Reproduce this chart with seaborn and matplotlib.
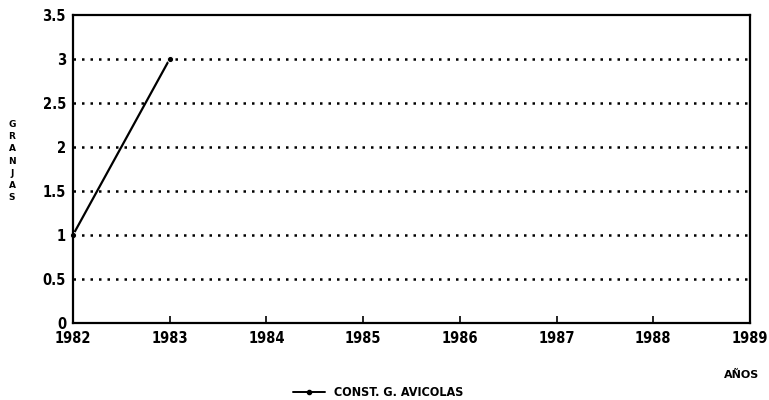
import matplotlib
matplotlib.use("Agg")
import matplotlib.pyplot as plt
import seaborn as sns
import pandas as pd
from matplotlib.lines import Line2D

years = [1982, 1983]
granjas = [1, 3]
x_ticks = [1982, 1983, 1984, 1985, 1986, 1987, 1988, 1989]
y_ticks = [0, 0.5, 1, 1.5, 2, 2.5, 3, 3.5]
y_tick_labels = ["0", "0.5", "1", "1.5", "2", "2.5", "3", "3.5"]
series_name = "CONST. G. AVICOLAS"

sns.set_style("white")
plt.rcParams['font.family'] = ['DejaVu Sans']
plt.rcParams['text.color'] = 'black'
plt.rcParams['xtick.color'] = 'black'
plt.rcParams['ytick.color'] = 'black'

df = pd.DataFrame({"AÑOS": years, "GRANJAS": granjas, "serie": [series_name] * len(years)})

fig = plt.figure(figsize=(7.69, 4.0), dpi=100)
ax = fig.add_axes([0.0949, 0.1925, 0.8804, 0.77])

sns.lineplot(data=df, x="AÑOS", y="GRANJAS", hue="serie", palette=["black"],
             marker="o", markersize=4.5, linewidth=1.6, ax=ax, legend=False)
for ln in ax.get_lines():
    ln.set_clip_on(False)

ax.set_xlim(1982, 1989)
ax.set_ylim(0, 3.5)
ax.set_xticks(x_ticks)
ax.set_xticklabels([str(y) for y in x_ticks])
ax.set_yticks(y_ticks)
ax.set_yticklabels(y_tick_labels)

for yv in y_ticks[1:-1]:
    ax.axhline(yv, color="black", linestyle=(0, (1, 2.4)), linewidth=1.8, zorder=0)

for s in ax.spines.values():
    s.set_visible(True)
    s.set_color("black")
    s.set_linewidth(1.6)

ax.tick_params(axis="x", direction="in", length=5, width=1.2, bottom=True, pad=6,
               colors="black")
ax.tick_params(axis="y", length=0, pad=5, colors="black")
for lab in ax.get_xticklabels() + ax.get_yticklabels():
    lab.set_fontweight("bold")
    lab.set_fontstretch("condensed")
    lab.set_fontsize(10.5)

ax.set_xlabel("")
ax.set_ylabel("")

fig.text(742 / 769, 1 - 375 / 400, "AÑOS", ha="center", va="center",
         fontsize=8, fontweight="bold", color="black")
fig.text(12 / 769, 1 - 161 / 400, "G\nR\nA\nN\nJ\nA\nS", ha="center", va="center",
         fontsize=6.5, fontweight="bold", linespacing=1.45, color="black")

handle = Line2D([], [], color="black", marker="o", markersize=3, linewidth=1.4)
fig.legend([handle], [series_name], loc="center left",
           bbox_to_anchor=(282 / 769, 1 - 393 / 400), frameon=False,
           handlelength=2.5, labelcolor="black",
           prop={"weight": "bold", "size": 9, "stretch": "condensed"})

fig.savefig("out.png", dpi=100)
